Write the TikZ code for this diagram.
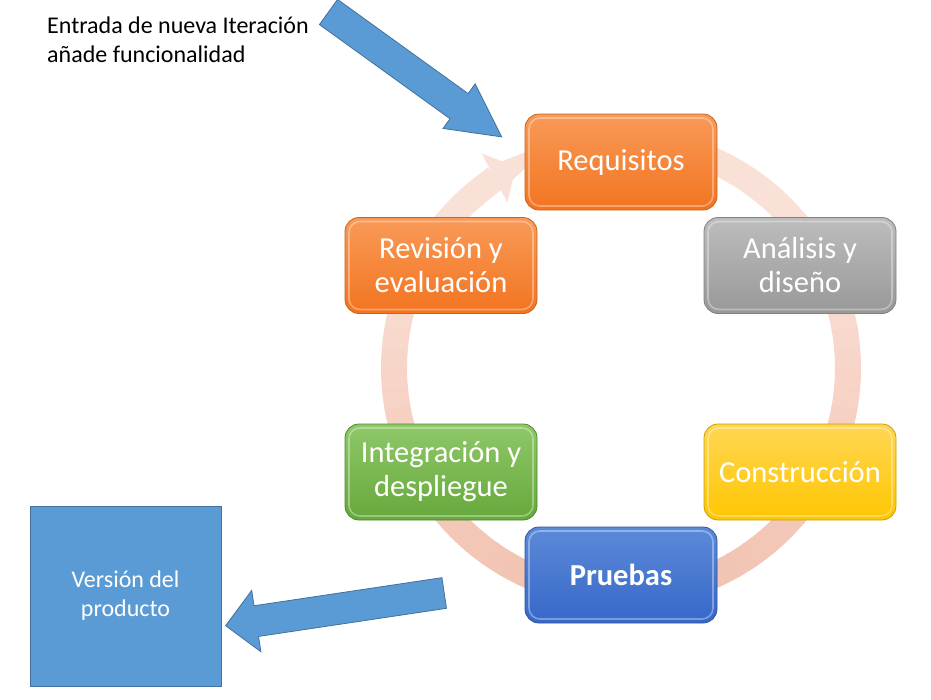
\documentclass[tikz,border=0pt]{standalone}
\usepackage{fontspec}
\setmainfont{Carlito}
\usetikzlibrary{arrows.meta}
\definecolor{blueA}{HTML}{5B9BD5}
\definecolor{blueAline}{HTML}{41719C}
\definecolor{ringD}{HTML}{F2C4B3}
\definecolor{ringLt}{HTML}{FCE6DE}
\definecolor{orTop}{HTML}{F99A58}
\definecolor{orBot}{HTML}{F27420}
\definecolor{orLine}{HTML}{C8641A}
\definecolor{grTop}{HTML}{BDBDBD}
\definecolor{grBot}{HTML}{989898}
\definecolor{grLine}{HTML}{808080}
\definecolor{yeTop}{HTML}{FFD654}
\definecolor{yeBot}{HTML}{FFC600}
\definecolor{yeLine}{HTML}{C9A000}
\definecolor{buTop}{HTML}{5C8AD9}
\definecolor{buBot}{HTML}{3767C9}
\definecolor{buLine}{HTML}{2F5597}
\definecolor{gnTop}{HTML}{8FC868}
\definecolor{gnBot}{HTML}{66A83C}
\definecolor{gnLine}{HTML}{4E8A2A}
\tikzset{
  stage/.style={rounded corners=14pt, minimum width=192pt, minimum height=96pt,
    line width=0.8pt, text=white, align=center, inner sep=0pt,
    font=\fontsize{30.5}{34}\selectfont,
    path picture={\draw[white, opacity=0.35, line width=1.6pt, rounded corners=11pt]
      ([shift={(4pt,-4pt)}]path picture bounding box.north west) rectangle
      ([shift={(-4pt,4pt)}]path picture bounding box.south east);}},
  orangebox/.style={stage, top color=orTop, bottom color=orBot, draw=orLine},
  graybox/.style={stage, top color=grTop, bottom color=grBot, draw=grLine},
  yellowbox/.style={stage, top color=yeTop, bottom color=yeBot, draw=yeLine},
  bluebox/.style={stage, top color=buTop, bottom color=buBot, draw=buLine},
  greenbox/.style={stage, top color=gnTop, bottom color=gnBot, draw=gnLine},
  blockarrow/.style={fill=blueA, draw=blueAline, line width=0.8pt, line join=miter},
  ringband/.style={line width=26pt},
  smalltext/.style={font=\fontsize{24}{29}\selectfont, inner sep=0pt, text=black},
}
\begin{document}
\begin{tikzpicture}[x=1pt,y=-1pt]
\useasboundingbox (0,0) rectangle (931,699);
% cycle ring, shaded in segments (darker at the bottom, lighter at the top)
\coordinate (ringc) at (621,368);
\foreach \a in {-85,-80,...,225}{
  \pgfmathsetmacro{\t}{max(15,min(100,50+55*sin(\a+2.5)))}
  \draw[ringband, draw=ringD!\t!ringLt] (ringc) ++(\a:227) arc[start angle=\a, end angle=\a+5.6, radius=227];
}
\draw[ringband, draw=ringD!15!ringLt, -{Triangle[width=54pt,length=24pt]}] (ringc) ++(229:227) arc[start angle=229, end angle=242.4, radius=227];
% stages
\node[orangebox] (req) at (621,162) {Requisitos};
\node[graybox] (ana) at (800,265.5) {Análisis y\\diseño};
\node[yellowbox] (con) at (800,472) {Construcción};
\node[bluebox] (pru) at (621,575) {\bfseries Pruebas};
\node[greenbox] (int) at (441,472) {Integración y\\despliegue};
\node[orangebox] (rev) at (441,265.5) {Revisión y\\evaluación};
% top text
\node[smalltext, anchor=base west] (entrada) at (47,33) {Entrada de nueva Iteración};
\node[smalltext, anchor=base west] (anade) at (47,62) {añade funcionalidad};
% input arrow
\begin{scope}[shift={(328.5,12)}, rotate=-35.8]
\draw[blockarrow] (0,-15.5) -- (161,-15.5) -- (161,-27.5) -- (213.5,0) -- (161,27.5) -- (161,15.5) -- (0,15.5) -- cycle;
\end{scope}
% product box
\node[fill=blueA, draw=blueAline, line width=0.8pt, minimum width=191pt, minimum height=180pt,
  inner sep=0pt, text=white, align=center, font=\fontsize{24}{29}\selectfont] (ver) at (125.5,596) {Versión del\\producto};
% output arrow
\begin{scope}[shift={(444.2,593)}, rotate=188.5]
\draw[blockarrow] (0,-15.5) -- (190,-15.5) -- (190,-31) -- (221,0) -- (190,31) -- (190,15.5) -- (0,15.5) -- cycle;
\end{scope}
\end{tikzpicture}
\end{document}
